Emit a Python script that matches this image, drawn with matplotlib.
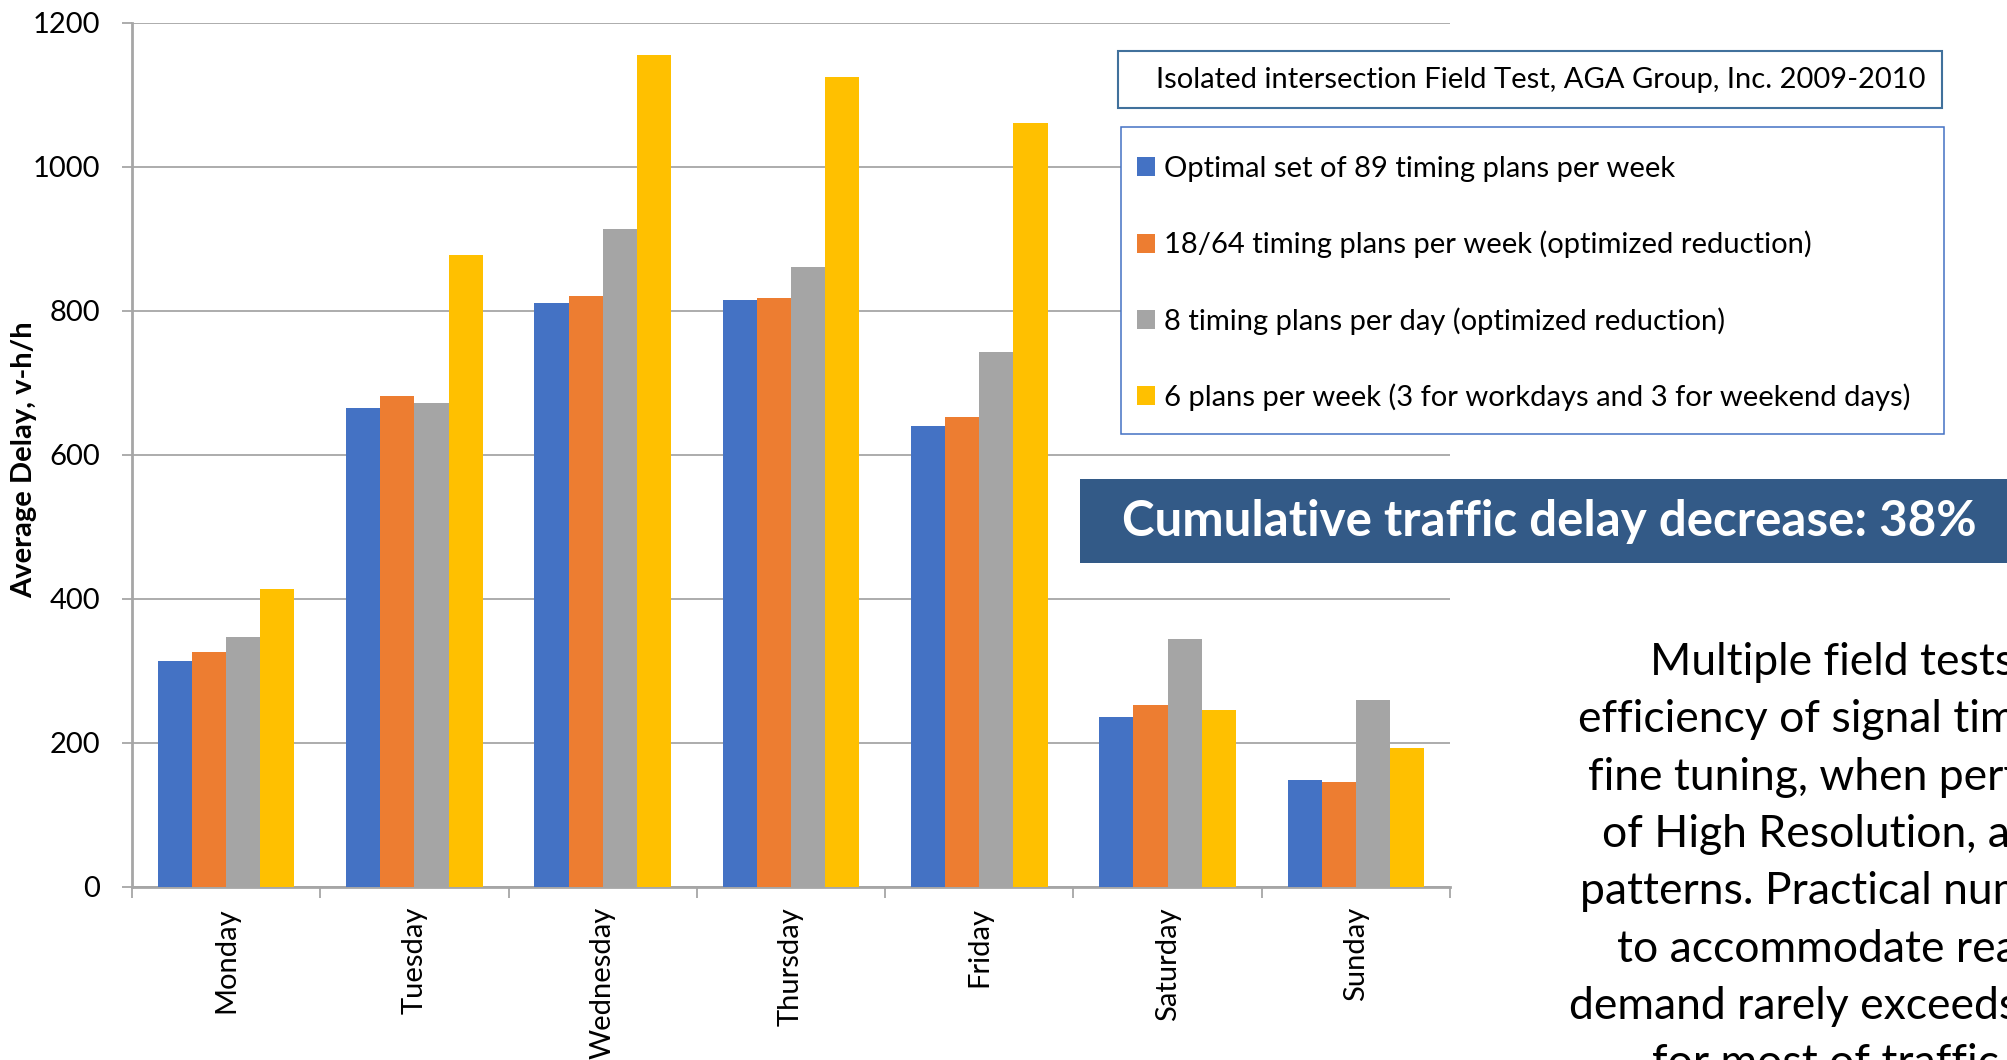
import numpy as np
import matplotlib.pyplot as plt
from matplotlib.patches import Rectangle

plt.rcParams['font.family'] = ['Lato', 'DejaVu Sans']

days = ["Monday", "Tuesday", "Wednesday", "Thursday", "Friday", "Saturday", "Sunday"]
series_names = [
    "Optimal set of 89 timing plans per week",
    "18/64 timing plans per week (optimized reduction)",
    "8 timing plans per day (optimized reduction)",
    "6 plans per week (3 for workdays and 3 for weekend days)",
]
optimal_89 = [313, 665, 811, 815, 640, 236, 148]
reduced_18_64 = [326, 681, 820, 818, 652, 253, 145]
daily_8 = [347, 672, 913, 861, 742, 344, 259]
weekly_6 = [414, 878, 1155, 1124, 1061, 245, 193]
colors = ["#4472C4", "#ED7D31", "#A5A5A5", "#FFC000"]

note_lines = [
    "Multiple field tests proved",
    "efficiency of signal timing",
    "fine tuning, when performed",
    "of High Resolution, and",
    "patterns. Practical number",
    "to accommodate real",
    "demand rarely exceeds",
    "for most of traffic conditions",
]

W, H = 2008, 1060
fig = plt.figure(figsize=(W / 100, H / 100), dpi=100)

# axes box in pixels: left 132, right 1450, top 22.7, bottom 886.7
ax = fig.add_axes([132 / W, 1 - 886.7 / H, (1450 - 132) / W, (886.7 - 22.7) / H])

x = np.arange(len(days))
width = 0.1815
bars = []
for i, (vals, name, c) in enumerate(zip([optimal_89, reduced_18_64, daily_8, weekly_6], series_names, colors)):
    bars.append(ax.bar(x + (i - 1.5) * width, vals, width, color=c, label=name, zorder=3))

grid_col = "#a6a6a6"
ax.set_xlim(-0.5, 6.5)
ax.set_ylim(0, 1200)
ax.set_yticks(range(0, 1201, 200))
ax.yaxis.grid(True, color=grid_col, lw=1.3)
ax.set_axisbelow(True)
for s in ["top", "right"]:
    ax.spines[s].set_visible(False)
for s in ["left", "bottom"]:
    ax.spines[s].set_color(grid_col)
    ax.spines[s].set_linewidth(2)

ax.tick_params(axis="y", length=7.2, width=1.3, color=grid_col, pad=15.8, labelsize=21)
ax.set_xticks(x, days, rotation=90, va="top", ha="center")
ax.tick_params(axis="x", which="major", length=0, pad=14.6, labelsize=21)
ax.set_xticks(np.arange(-0.5, 7), minor=True)
ax.tick_params(axis="x", which="minor", length=8, width=1.3, color=grid_col)

fig.text(24 / W, 1 - 460 / H, "Average Delay, v-h/h", rotation=90, fontweight="bold",
         fontsize=21, ha="center", va="center")

# title box above the legend
fig.add_artist(Rectangle((1118 / W, 1 - 108 / H), (1942 - 1118) / W, (108 - 51) / H,
                         transform=fig.transFigure, fill=True, fc="white", ec="#41719c", lw=1.5))
fig.text(1156 / W, 1 - 80 / H, "Isolated intersection Field Test, AGA Group, Inc. 2009-2010",
         fontsize=21, va="center")

# legend frame drawn separately so the padding can be set per side
fig.add_artist(Rectangle((1121 / W, 1 - 434 / H), (1944 - 1121) / W, (434 - 127) / H,
                         transform=fig.transFigure, fc="white", ec="#4472c4", lw=1.1, zorder=4))
leg = fig.legend(handles=bars, loc="upper left", bbox_to_anchor=(1137 / W, 1 - 156 / H),
                 fontsize=21, frameon=False,
                 labelspacing=1.67, handlelength=0.62, handleheight=0.62, handletextpad=0.3,
                 borderpad=0, borderaxespad=0)
leg.set_zorder(6)

# highlighted result banner
fig.add_artist(Rectangle((1080 / W, 1 - 563 / H), (2010 - 1080) / W, 84 / H,
                         transform=fig.transFigure, fc="#335a87", ec="none"))
fig.text(1122 / W, 1 - 522 / H, "Cumulative traffic delay decrease: 38%", color="white",
         fontweight="bold", fontsize=35.5, va="center")

# side note, running off the right edge
note_x = [1650, 1578, 1588, 1602, 1580, 1617, 1569, 1652]
for i, (line, lx) in enumerate(zip(note_lines, note_x)):
    fig.text(lx / W, 1 - (675 + i * 57.3) / H, line, fontsize=32, va="baseline")

fig.savefig("out.png", dpi=100)
